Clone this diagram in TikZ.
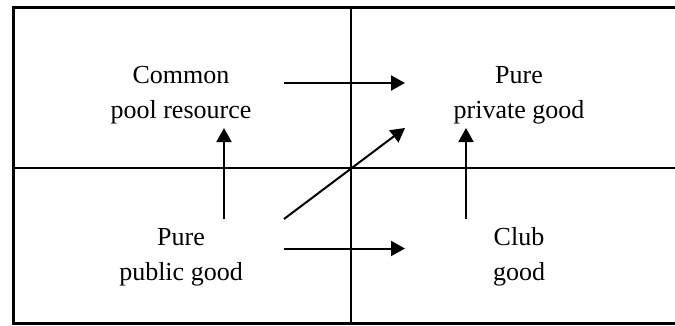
\documentclass[tikz,border=0pt]{standalone}
\usepackage{fontspec}
\setmainfont{Liberation Serif}
\usetikzlibrary{arrows.meta}
\tikzset{
  frame/.style={line width=3pt},
  divider/.style={line width=2pt},
  link/.style={line width=2pt, -{Triangle[length=14pt,width=15pt]}},
  label/.style={anchor=base, inner sep=0pt, font=\fontsize{26}{35}\selectfont}
}
\newcommand{\twolines}[2]{\begin{tabular}[t]{@{}c@{}}#1\\#2\end{tabular}}
\begin{document}
\begin{tikzpicture}[x=1pt,y=-1pt]
\useasboundingbox (0,0) rectangle (675,325);
\fill[white] (0,0) rectangle (675,325);
% frame and dividers
\draw[frame] (13,7.5) rectangle (680,323.5);
\coordinate (vt) at (350.5,7.5);
\coordinate (vb) at (350.5,323.5);
\coordinate (hl) at (13,167.5);
\coordinate (hr) at (680,167.5);
\draw[divider] (vt) -- (vb);
\draw[divider] (hl) -- (hr);
% labels
\node[label] (cpr) at (181,83) {\twolines{Common}{pool resource}};
\node[label] (ppg) at (519,83) {\twolines{Pure}{private good}};
\node[label] (pub) at (181,245) {\twolines{Pure}{public good}};
\node[label] (club) at (519,245) {\twolines{Club}{good}};
% arrow end points
\coordinate (a1s) at (284,83);  \coordinate (a1e) at (405,83);
\coordinate (a2s) at (284,248.5); \coordinate (a2e) at (405,248.5);
\coordinate (a3s) at (224,219); \coordinate (a3e) at (224,128);
\coordinate (a4s) at (466,219); \coordinate (a4e) at (466,128);
\coordinate (a5s) at (284,219); \coordinate (a5e) at (405,128);
\draw[link] (a1s) -- (a1e);
\draw[link] (a2s) -- (a2e);
\draw[link] (a3s) -- (a3e);
\draw[link] (a4s) -- (a4e);
\draw[link] (a5s) -- (a5e);
\end{tikzpicture}
\end{document}
